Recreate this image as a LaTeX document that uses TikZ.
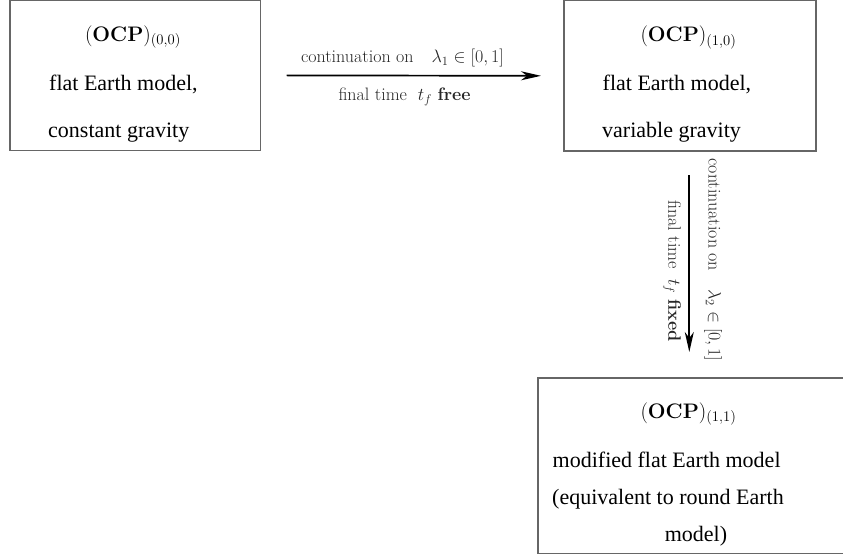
\RequirePackage{fix-cm}
\documentclass[tikz,border=0pt]{standalone}
\usepackage[no-math]{fontspec}
\setmainfont{Liberation Serif}
\newfontfamily\lmfont{Latin Modern Roman}
\usetikzlibrary{arrows.meta}
\tikzset{
  box/.style={draw=black!60, line width=1.3pt, rectangle, inner sep=0pt, outer sep=0pt},
  boxtext/.style={inner sep=0pt, text=black, font=\rmfamily\fontsize{22}{26}\selectfont},
  ocptext/.style={inner sep=0pt, text=black, font=\rmfamily\fontsize{21}{25}\selectfont},
  lbl/.style={inner sep=0pt, text=black!85, font=\lmfont\fontsize{18}{21}\selectfont},
  arr/.style={line width=1.7pt, -{Stealth[length=20pt,width=9pt,inset=6pt]}}
}
\begin{document}
\begin{tikzpicture}[x=1pt,y=-1pt]
\useasboundingbox (0,0) rectangle (843,558);
\clip (0,0) rectangle (843,558);
% boxes
\node[box, minimum width=250.7pt, minimum height=150pt] (b1) at (135.35,75.35) {};
\node[box, minimum width=252pt, minimum height=150.3pt] (b2) at (690,75.85) {};
\node[box, minimum width=318pt, minimum height=175.5pt] (b3) at (697,465.75) {};
% box 1 text
\node[ocptext, anchor=base] (t1a) at (133,41) {$(\mathbf{OCP})_{(0,0)}$};
\node[boxtext, anchor=base west] (t1b) at (49,90.7) {flat Earth model,};
\node[boxtext, anchor=base west] (t1c) at (48,137) {constant gravity};
% box 2 text
\node[ocptext, anchor=base] (t2a) at (688.5,41.7) {$(\mathbf{OCP})_{(1,0)}$};
\node[boxtext, anchor=base west] (t2b) at (602.5,90) {flat Earth model,};
\node[boxtext, anchor=base west] (t2c) at (602,137) {variable gravity};
% box 3 text
\node[ocptext, anchor=base] (t3a) at (688.5,418) {$(\mathbf{OCP})_{(1,1)}$};
\node[boxtext, anchor=base west] (t3b) at (552.5,467) {modified flat Earth model};
\node[boxtext, anchor=base west] (t3c) at (552,504) {(equivalent to round Earth};
\node[boxtext, anchor=base] (t3d) at (696,541) {model)};
% connectors
\draw[arr, shorten <=26pt, shorten >=23pt] (b1.east) -- (b2.west);
\draw[arr, shorten <=24pt, shorten >=26pt] ([xshift=-0.7pt]b2.south) -- ([xshift=-0.7pt]b2.south |- b3.north);
% labels
\node[lbl, anchor=base] (l1) at (402.5,62.3) {continuation on\quad $\lambda_1\in[0,1]$};
\node[lbl, anchor=base] (l2) at (404.5,100.7) {final time\ \ $t_f$ \textbf{free}};
\node[lbl, rotate=-90] (l3) at (713,260) {continuation on\quad $\lambda_2\in[0,1]$};
\node[lbl, rotate=-90] (l4) at (672,271) {final time\ \ $t_f$ \textbf{fixed}};
\end{tikzpicture}
\end{document}
